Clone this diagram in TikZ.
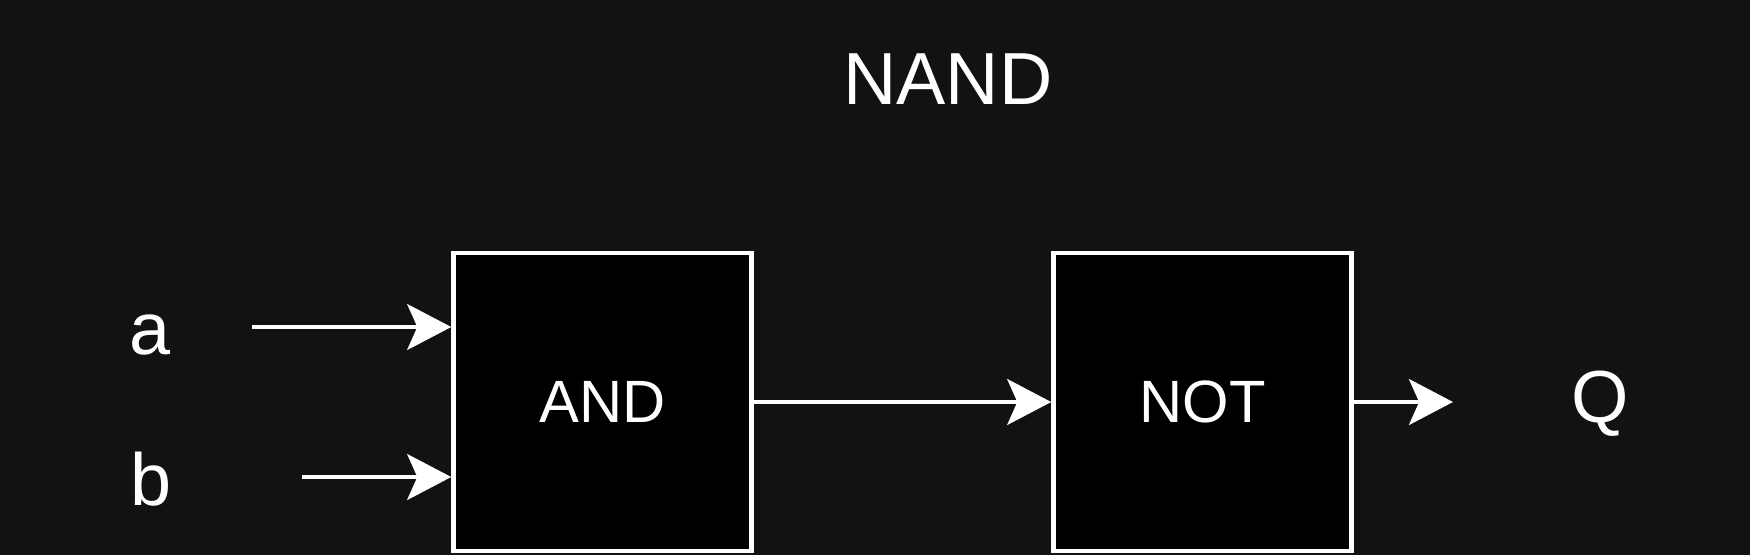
\documentclass[tikz,border=0pt]{standalone}
\usepackage{fontspec}
\setmainfont{Liberation Sans}
\usetikzlibrary{arrows.meta}
\definecolor{bgdark}{RGB}{18,18,18}
\tikzset{gate/.style={draw=white,fill=black,line width=2.7pt,minimum width=169.5pt,minimum height=169.5pt,inner sep=0pt,text=white,font=\fontsize{34}{40}\selectfont},
 lbl/.style={text=white,inner sep=0pt,font=\fontsize{42}{50}\selectfont},
 wire/.style={draw=white,line width=2.7pt,-{Stealth[length=25pt,width=26pt,inset=5.7pt]}}}

\begin{document}
\begin{tikzpicture}[x=0.02cm,y=-0.02cm]
\fill[bgdark](0,0)rectangle(1750,555);
\useasboundingbox(0,0)rectangle(1750,555);
\node[lbl](title) at(948,79){NAND};
\node[gate](gand) at(602.5,402){AND};
\node[gate](gnot) at(1202.5,402){NOT};
\node[lbl](la) at(150,335){a};\node[lbl](lb) at(151,479){b};
\node[lbl](lq) at(1600,404){Q};
\coordinate(ia) at(252,327);\coordinate(ib) at(302,477);
\coordinate(oq) at(1453,402);
\draw[wire](ia)--(ia-|gand.west);
\draw[wire](ib)--(ib-|gand.west);
\draw[wire](gand)--(gnot);
\draw[wire](gnot.east)--(oq);
\end{tikzpicture}
\end{document}
